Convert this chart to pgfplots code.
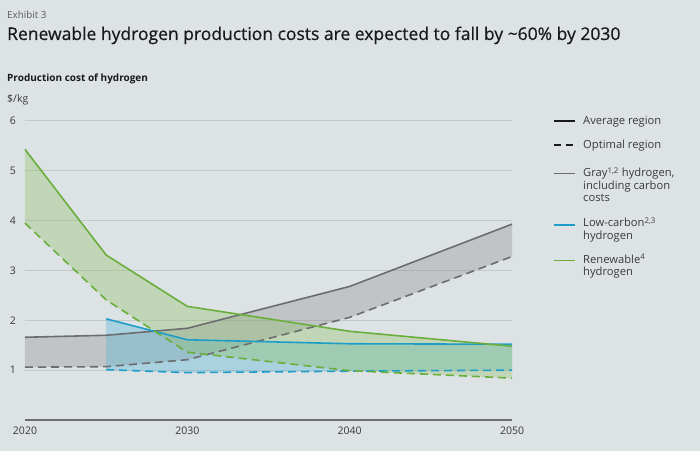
\documentclass[border=0pt]{standalone}
\usepackage{fontspec}
\setmainfont{Open Sans}
\newfontfamily\titlefont{Open Sans}[FakeBold=0.6]
\usepackage{pgfplots}
\usepackage{pgfplotstable}
\pgfplotsset{compat=1.18}
\usepgfplotslibrary{fillbetween}
\definecolor{bg}{HTML}{DDE2E5}
\definecolor{txt}{HTML}{3A3A3A}
\definecolor{exc}{HTML}{5A5A5A}
\definecolor{gridc}{HTML}{C3C8CB}
\definecolor{axc}{HTML}{6B6D70}
\definecolor{grayc}{HTML}{6B6D70}
\definecolor{bluec}{HTML}{1D9DC8}
\definecolor{greenc}{HTML}{6AAE3C}
\definecolor{grayf}{HTML}{6D6E71}
\definecolor{bluef}{HTML}{5FB8D6}
\definecolor{greenf}{HTML}{8CC063}
\tikzset{dsh/.style={dash pattern=on 8pt off 5pt}}
\pgfplotstableread{
x avg opt
2020 1.66 1.06
2025 1.70 1.07
2030 1.84 1.21
2040 2.68 2.06
2050 3.93 3.28
}\graytab
\pgfplotstableread{
x avg opt
2025 2.03 1.01
2030 1.61 0.95
2040 1.53 0.98
2050 1.52 1.00
}\bluetab
\pgfplotstableread{
x avg opt
2020 5.43 3.95
2025 3.31 2.41
2030 2.28 1.36
2040 1.78 0.99
2050 1.48 0.84
}\greentab
\begin{document}
\begin{tikzpicture}[x=1pt,y=1pt]
\node[anchor=base west, inner sep=0, font=\fontsize{9.8}{12}\selectfont, text=exc] at (7,-19) {Exhibit 3};
\node[anchor=base west, inner sep=0, font=\titlefont\fontsize{17.5}{20}\selectfont, text=black!90] at (7,-40) {Renewable hydrogen production costs are expected to fall by \textasciitilde60\% by 2030};
\node[anchor=base west, inner sep=0, font=\bfseries\fontsize{10}{12}\selectfont, text=black!90] at (7,-82) {Production cost of hydrogen};
\node[anchor=base west, inner sep=0, font=\fontsize{10.5}{12}\selectfont, text=txt] at (7,-103) {\$/kg};
\begin{axis}[
  at={(25pt,-420pt)}, anchor=south west,
  scale only axis, width=487pt, height=299pt,
  xmin=2020, xmax=2050, ymin=0, ymax=6,
  set layers, clip=false,
  axis line style={draw=none},
  major tick length=0pt,
  xtick={2020,2030,2040,2050},
  ytick={1,2,3,4,5,6},
  ymajorgrids, grid style={gridc, line width=1pt},
  /pgf/number format/assume math mode=true,
  /pgf/number format/1000 sep={},
  tick label style={font=\fontsize{10.5}{12}\selectfont, text=txt},
  yticklabel style={anchor=center, xshift=-12pt},
  xticklabel style={anchor=center, yshift=-11pt},
]
\begin{pgfonlayer}{axis background}
\fill[bg] (rel axis cs:-0.051335,1.404682) rectangle (rel axis cs:1.386037,-0.103679);
\end{pgfonlayer}
\draw[axc, line width=1.6pt] (axis cs:2020,0) -- (axis cs:2050,0);
\addplot[draw=none, name path=ga] table[x=x, y=avg] {\graytab};
\addplot[draw=none, name path=go] table[x=x, y=opt] {\graytab};
\addplot[draw=none, name path=ba] table[x=x, y=avg] {\bluetab};
\addplot[draw=none, name path=bo] table[x=x, y=opt] {\bluetab};
\addplot[draw=none, name path=gra] table[x=x, y=avg] {\greentab};
\addplot[draw=none, name path=gro] table[x=x, y=opt] {\greentab};
\addplot[grayf, fill opacity=0.25, draw=none] fill between[of=ga and go];
\addplot[bluef, fill opacity=0.4, draw=none] fill between[of=ba and bo];
\addplot[greenf, fill opacity=0.35, draw=none] fill between[of=gra and gro];
\addplot[grayc, line width=1.6pt] table[x=x, y=avg] {\graytab};
\addplot[grayc, line width=1.6pt, dsh] table[x=x, y=opt] {\graytab};
\addplot[bluec, line width=1.6pt] table[x=x, y=avg] {\bluetab};
\addplot[bluec, line width=1.6pt, dsh] table[x=x, y=opt] {\bluetab};
\addplot[greenc, line width=1.6pt] table[x=x, y=avg] {\greentab};
\addplot[greenc, line width=1.6pt, dsh] table[x=x, y=opt] {\greentab};
\end{axis}
% legend
\begin{scope}[every node/.style={anchor=base west, inner sep=0, font=\fontsize{11.2}{13}\selectfont, text=txt}]
\draw[black!90, line width=1.7pt] (554,-121) -- (575,-121);
\node at (583,-124.5) {Average region};
\draw[black!90, line width=1.7pt, dash pattern=on 7pt off 5pt] (554,-145) -- (575,-145);
\node at (583,-148.5) {Optimal region};
\draw[grayc, line width=1.7pt] (554,-173.5) -- (575,-173.5);
\node at (583,-177) {Gray\textsuperscript{1,2} hydrogen,};
\node at (583,-189.5) {including carbon};
\node at (583,-202) {costs};
\draw[bluec, line width=1.7pt] (554,-225) -- (575,-225);
\node at (583,-227) {Low-carbon\textsuperscript{2,3}};
\node at (583,-239.5) {hydrogen};
\draw[greenc, line width=1.7pt] (554,-260.5) -- (575,-260.5);
\node at (583,-263.5) {Renewable\textsuperscript{4}};
\node at (583,-276) {hydrogen};
\end{scope}
\end{tikzpicture}
\end{document}
